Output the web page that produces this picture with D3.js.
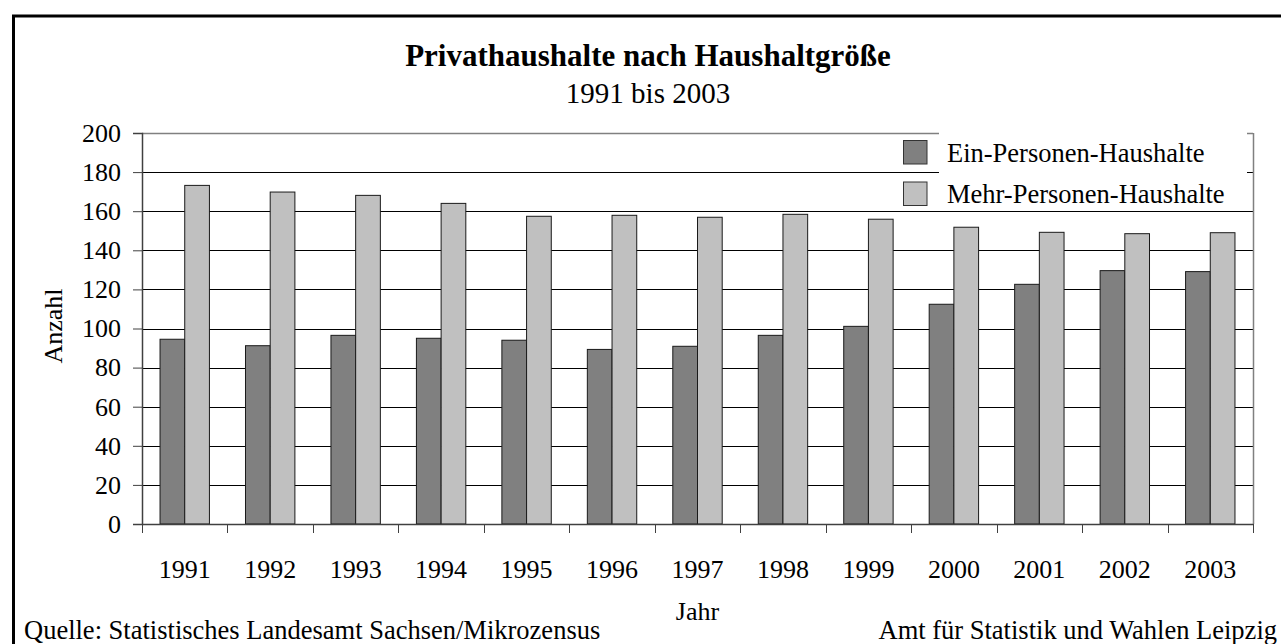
<!DOCTYPE html>
<html><head><meta charset="utf-8">
<script src="https://cdn.jsdelivr.net/npm/d3@7"></script>
<style>html,body{margin:0;padding:0;background:#fff;overflow:hidden}</style>
</head><body>
<svg id="c" width="1281" height="644"></svg>
<script>
const years = ["1991","1992","1993","1994","1995","1996","1997","1998","1999","2000","2001","2002","2003"];
const seriesNames = ["Ein-Personen-Haushalte","Mehr-Personen-Haushalte"];
const einPersonen = [94.5, 91.2, 96.5, 95.0, 94.0, 89.3, 90.9, 96.5, 101.1, 112.4, 122.6, 129.6, 129.1];
const mehrPersonen = [173.2, 169.8, 168.1, 164.0, 157.4, 157.9, 156.9, 158.4, 155.9, 151.8, 149.2, 148.5, 149.0];
const yTicks = [0,20,40,60,80,100,120,140,160,180,200];
const colors = ["#808080","#c0c0c0"];

const svg = d3.select("#c");
const font = "'Liberation Serif','Times New Roman',serif";
const L = 142, R = 1253, T = 133, B = 524;

svg.append("rect").attr("x",13.5).attr("y",16).attr("width",1400).attr("height",800)
  .attr("fill","none").attr("stroke","#000").attr("stroke-width",3);

const x = d3.scaleBand().domain(years).range([L,R]).padding(0);
const xs = d3.scaleBand().domain(seriesNames).range([0,x.bandwidth()]).paddingInner(0).paddingOuter(0.73);
const y = d3.scaleLinear().domain([0,200]).range([B,T]);

// grid lines
svg.append("g").selectAll("line").data(yTicks.filter(d=>d>0 && d<200)).join("line")
  .attr("x1",L).attr("x2",R).attr("y1",d=>Math.round(y(d))+0.5).attr("y2",d=>Math.round(y(d))+0.5)
  .attr("stroke","#000").attr("stroke-width",1);
// top border and right border
svg.append("line").attr("x1",L).attr("x2",R).attr("y1",T+0.5).attr("y2",T+0.5).attr("stroke","#808080").attr("stroke-width",1.5);
svg.append("line").attr("x1",R+0.5).attr("x2",R+0.5).attr("y1",T).attr("y2",B).attr("stroke","#808080").attr("stroke-width",1.5);

// bars
const data = years.map((yr,i)=>({yr, vals:[einPersonen[i], mehrPersonen[i]]}));
const g = svg.append("g").selectAll("g").data(data).join("g").attr("transform",d=>`translate(${x(d.yr)},0)`);
g.selectAll("rect").data(d=>d.vals.map((v,j)=>({v,s:seriesNames[j],j}))).join("rect")
  .attr("x",d=>xs(d.s)).attr("width",xs.bandwidth())
  .attr("y",d=>y(d.v)).attr("height",d=>y(0)-y(d.v))
  .attr("fill",d=>colors[d.j]).attr("stroke","#1a1a1a").attr("stroke-width",1);

// legend background
svg.append("rect").attr("x",939).attr("y",128).attr("width",1247-939).attr("height",83).attr("fill","#fff");
seriesNames.forEach((s,i)=>{
  const yy = 140 + i*41.5;
  svg.append("rect").attr("x",903.5).attr("y",yy+0.5).attr("width",23.5).attr("height",23.5)
    .attr("fill",colors[i]).attr("stroke","#333").attr("stroke-width",1);
  svg.append("text").attr("x",947).attr("y",yy+21.5).attr("font-family",font).attr("font-size",26.5)
    .attr("fill","#000").text(s);
});

// axes
const yAxis = d3.axisLeft(y).tickValues(yTicks).tickSize(9).tickPadding(12);
const ya = svg.append("g").attr("transform",`translate(${L},0)`).call(yAxis);
ya.select(".domain").attr("stroke","#404040").attr("stroke-width",1.5);
ya.selectAll(".tick line").attr("stroke","#404040");
ya.selectAll("text").attr("font-family",font).attr("font-size",26).attr("fill","#000");

const xAxis = d3.axisBottom(x).tickSize(0).tickPadding(36);
const xa = svg.append("g").attr("transform",`translate(0,${B})`).call(xAxis);
xa.select(".domain").attr("stroke","#404040").attr("stroke-width",1.5);
xa.selectAll("text").attr("font-family",font).attr("font-size",26).attr("fill","#000");
// boundary ticks
const bounds = years.map(d=>x(d)).concat([R]);
svg.append("g").selectAll("line").data(bounds).join("line")
  .attr("x1",d=>Math.round(d)+0.5).attr("x2",d=>Math.round(d)+0.5).attr("y1",B).attr("y2",B+9)
  .attr("stroke","#404040").attr("stroke-width",1);

// titles
svg.append("text").attr("x",648).attr("y",66).attr("text-anchor","middle").attr("font-family",font)
  .attr("font-size",31).attr("font-weight","bold").text("Privathaushalte nach Haushaltgröße");
svg.append("text").attr("x",648).attr("y",103).attr("text-anchor","middle").attr("font-family",font)
  .attr("font-size",29).text("1991 bis 2003");
svg.append("text").attr("transform","translate(62,326) rotate(-90)").attr("text-anchor","middle")
  .attr("font-family",font).attr("font-size",26).text("Anzahl");
svg.append("text").attr("x",697.5).attr("y",620).attr("text-anchor","middle").attr("font-family",font)
  .attr("font-size",26).text("Jahr");
svg.append("text").attr("x",24).attr("y",639).attr("font-family",font)
  .attr("font-size",26.5).text("Quelle: Statistisches Landesamt Sachsen/Mikrozensus");
svg.append("text").attr("x",1277).attr("y",639).attr("text-anchor","end").attr("font-family",font)
  .attr("font-size",26.5).text("Amt für Statistik und Wahlen Leipzig");
</script>
</body></html>
